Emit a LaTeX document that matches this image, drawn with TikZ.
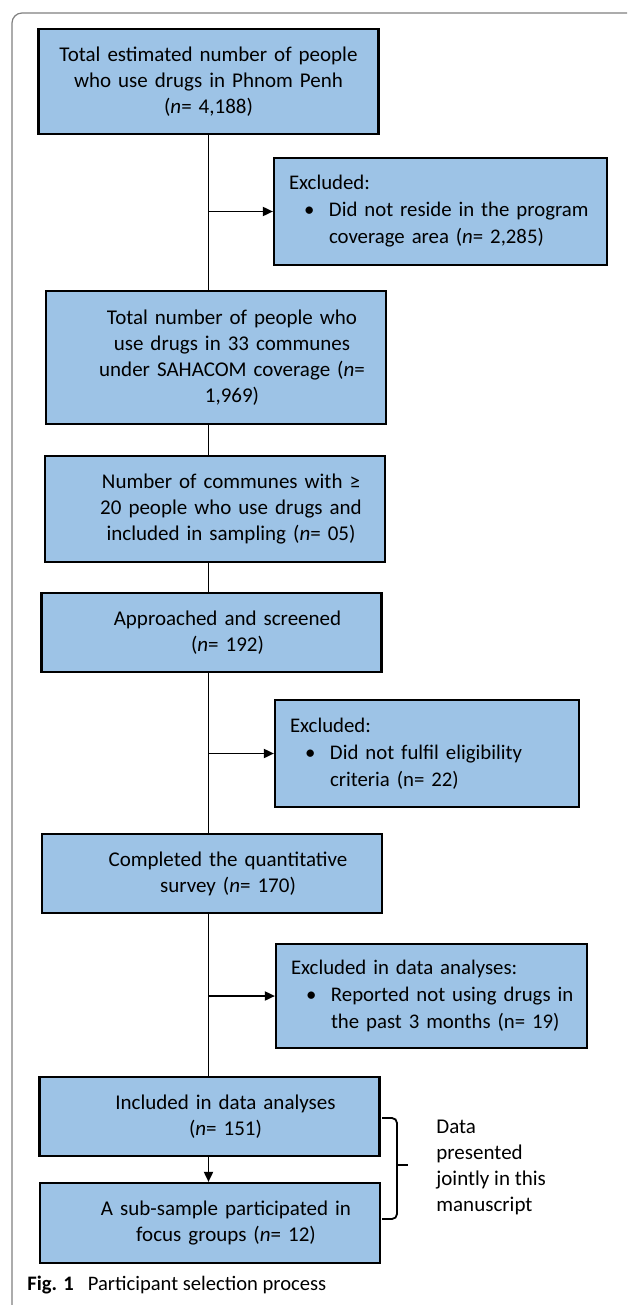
\documentclass[tikz,border=0pt]{standalone}
\usepackage{fontspec}
\setmainfont{Carlito}
\usepackage{tikz}
\usetikzlibrary{positioning,arrows.meta}

\definecolor{boxblue}{HTML}{9DC3E6}

\begin{document}
\begin{tikzpicture}[x=0.5pt, y=-0.5pt,
    stage/.style={rectangle, draw, line width=1.1pt, fill=boxblue, inner xsep=0pt, inner ysep=2pt,
      text width=170pt, minimum width=170pt, align=center, font=\fontsize{10.5}{12.9}\selectfont},
    shifted/.style={execute at begin node={\advance\leftskip 16pt\relax}},
    excl/.style={rectangle, draw, line width=1.1pt, fill=boxblue, inner xsep=7.5pt, inner ysep=2pt,
      align=left, font=\fontsize{10.4}{13.5}\selectfont},
    link/.style={line width=0.9pt},
    flow/.style={link, -{Triangle[length=5pt,width=4.5pt]}},
    note/.style={align=left, inner sep=0pt, font=\fontsize{10.5}{13}\selectfont}]
  \useasboundingbox (0,0) rectangle (630,1305);
  % outer frame
  \draw[gray, line width=0.6pt, rounded corners=5pt] (627,13) -- (12,13) -- (12,1315) -- (40,1315);

  % main boxes
  \node[stage, minimum height=52.5pt] (b1) at (208.5,81.5) {Total estimated number of people\\who use drugs in Phnom Penh\\(\textit{n}= 4,188)};
  \node[excl, text width=151.5pt, minimum height=53.5pt] (x1) at (440.5,211.5) {Excluded:\\\mbox{\hspace*{7.5pt}\makebox[12.5pt][l]{\textbullet}Did not reside in the program}\\\mbox{\hspace*{20pt}coverage area (\textit{n}= 2,285)}};
  \node[stage, shifted, minimum height=66.5pt] (b2) at (216,357.5) {Total number of people who\\use drugs in 33 communes\\under SAHACOM coverage (\textit{n}=\\1,969)};
  \node[stage, shifted, minimum height=53pt] (b3) at (215,509) {Number of communes with ≥\\20 people who use drugs and\\included in sampling (\textit{n}= 05)};
  \node[stage, shifted, minimum height=39.5pt] (b4) at (211.5,632.5) {Approached and screened\\(\textit{n}= 192)};
  \node[excl, text width=137pt, minimum height=53.5pt] (x2) at (427,753.5) {Excluded:\\\mbox{\hspace*{7.5pt}\makebox[12.5pt][l]{\textbullet}Did not fulfil eligibility}\\\mbox{\hspace*{20pt}criteria (n= 22)}};
  \node[stage, shifted, minimum height=39.5pt] (b5) at (212,873.5) {Completed the quantitative\\survey (\textit{n}= 170)};
  \node[excl, text width=140.5pt, minimum height=52pt] (x3) at (431.5,996) {Excluded in data analyses:\\\mbox{\hspace*{7.5pt}\makebox[12.5pt][l]{\textbullet}Reported not using drugs in}\\\mbox{\hspace*{20pt}the past 3 months (n= 19)}};
  \node[stage, shifted, minimum height=39.5pt] (b6) at (209.5,1116.5) {Included in data analyses\\(\textit{n}= 151)};
  \node[stage, shifted, minimum height=40pt] (b7) at (210,1223) {A sub-sample participated in\\focus groups (\textit{n}= 12)};

  % junctions on the spine
  \coordinate (j1) at (b1.south |- x1.west);
  \coordinate (j2) at (b1.south |- x2.west);
  \coordinate (j3) at (b1.south |- x3.west);

  % connectors
  \draw[link] (b1.south) -- (b1.south |- b2.north);
  \draw[link] (b1.south |- b2.south) -- (b1.south |- b3.north);
  \draw[link] (b1.south |- b3.south) -- (b1.south |- b4.north);
  \draw[link] (b1.south |- b4.south) -- (b1.south |- b5.north);
  \draw[link] (b1.south |- b5.south) -- (b1.south |- b6.north);
  \draw[flow] (b1.south |- b6.south) -- (b1.south |- b7.north);
  \draw[flow] (j1) -- (x1.west);
  \draw[flow] (j2) -- (x2.west);
  \draw[flow] (j3) -- (x3.west);

  % bracket and note
  \draw[link, rounded corners=2.5pt] (382,1118) -- (397,1118) -- (397,1219) -- (382,1219);
  \draw[link] (397,1165) -- (408,1165);
  \node[note, anchor=west] (remark) at (436,1167) {Data\\presented\\jointly in this\\manuscript};

  % caption
  \node[anchor=base west, inner sep=0pt, font=\fontsize{10.3}{12}\selectfont] (cap) at (27,1290) {\textbf{Fig. 1}\hspace{7pt}Participant selection process};
\end{tikzpicture}
\end{document}
